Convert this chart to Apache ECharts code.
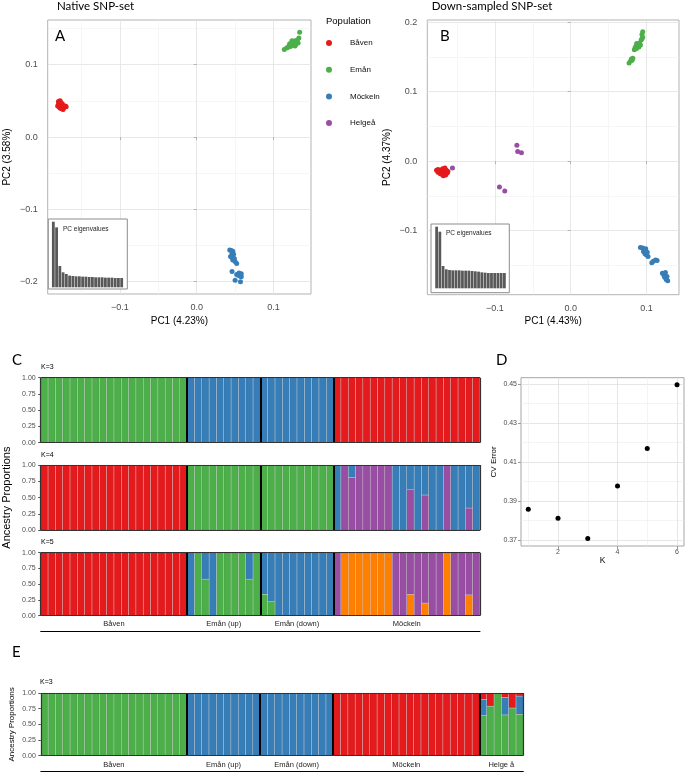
<!DOCTYPE html>
<html><head><meta charset="utf-8">
<script src="https://cdn.jsdelivr.net/npm/echarts@6/dist/echarts.min.js"></script>
<style>html,body{margin:0;padding:0;background:#fff}#c{width:685px;height:773px}</style>
</head><body><div id="c"></div>
<script>
// ================= DATA =================
const popColors = {'Båven':'#E41A1C','Emån':'#4DAF4A','Möckeln':'#377EB8','Helgeå':'#984EA3'};
const popA = ['Båven','Emån','Möckeln'];
const popB = ['Båven','Emån','Möckeln','Helgeå'];

// Panel A (native SNP set): [PC1, PC2]
const pcaA_Baven = [[-0.180,0.049],[-0.178,0.050],[-0.179,0.047],[-0.177,0.046],[-0.180,0.045],[-0.178,0.044],[-0.176,0.044],[-0.179,0.042],[-0.177,0.041],[-0.175,0.042],[-0.178,0.040],[-0.176,0.039],[-0.174,0.040],[-0.173,0.041],[-0.170,0.042],[-0.171,0.043],[-0.181,0.043],[-0.175,0.046],[-0.177,0.048],[-0.174,0.038]];
const pcaA_Eman = [[0.114,0.121],[0.117,0.123],[0.119,0.124],[0.120,0.126],[0.122,0.125],[0.123,0.128],[0.124,0.130],[0.125,0.127],[0.126,0.131],[0.127,0.129],[0.128,0.133],[0.129,0.128],[0.130,0.131],[0.131,0.134],[0.132,0.130],[0.128,0.126],[0.124,0.133],[0.133,0.137],[0.134,0.145],[0.121,0.129]];
const pcaA_Mockeln = [[0.043,-0.156],[0.045,-0.157],[0.047,-0.158],[0.046,-0.161],[0.048,-0.162],[0.044,-0.165],[0.046,-0.167],[0.049,-0.168],[0.047,-0.170],[0.050,-0.172],[0.052,-0.175],[0.046,-0.186],[0.052,-0.190],[0.054,-0.191],[0.056,-0.192],[0.058,-0.189],[0.058,-0.193],[0.050,-0.198],[0.057,-0.200],[0.055,-0.188]];

// Panel B (down-sampled SNP set)
const pcaB_Baven = [[-0.177,-0.013],[-0.175,-0.012],[-0.174,-0.014],[-0.173,-0.016],[-0.172,-0.013],[-0.171,-0.015],[-0.170,-0.017],[-0.169,-0.011],[-0.168,-0.014],[-0.167,-0.018],[-0.166,-0.016],[-0.165,-0.020],[-0.164,-0.013],[-0.163,-0.017],[-0.166,-0.010],[-0.170,-0.019],[-0.168,-0.021],[-0.162,-0.015],[-0.172,-0.018],[-0.175,-0.016]];
const pcaB_Eman = [[0.077,0.141],[0.079,0.144],[0.080,0.147],[0.082,0.148],[0.081,0.145],[0.084,0.160],[0.085,0.163],[0.086,0.165],[0.087,0.162],[0.088,0.166],[0.089,0.168],[0.090,0.164],[0.087,0.169],[0.091,0.170],[0.092,0.167],[0.093,0.174],[0.094,0.176],[0.095,0.178],[0.094,0.182],[0.095,0.186]];
const pcaB_Mockeln = [[0.092,-0.124],[0.095,-0.125],[0.097,-0.127],[0.099,-0.126],[0.096,-0.130],[0.098,-0.133],[0.100,-0.135],[0.102,-0.137],[0.101,-0.131],[0.107,-0.146],[0.109,-0.144],[0.112,-0.142],[0.114,-0.143],[0.121,-0.161],[0.123,-0.164],[0.125,-0.160],[0.124,-0.167],[0.126,-0.170],[0.128,-0.172],[0.127,-0.166]];
const pcaB_Helgea = [[-0.156,-0.010],[-0.071,0.023],[-0.070,0.014],[-0.065,0.012],[-0.094,-0.037],[-0.087,-0.043]];

// PC eigenvalue insets (relative heights)
const eigA = [197,180,64,45,40,35,34,33,33,32,32,31,31,30,30,30,29,29,29,28,28,28];
const eigB = [185,170,67,57,55,54,54,54,53,53,53,52,51,50,48,47,46,46,46,46,46,46];

// Axis ticks
const ticksA_x = [-0.1,0,0.1], minorA_x = [-0.15,-0.05,0.05];
const ticksA_y = [-0.2,-0.1,0,0.1], minorA_y = [-0.15,-0.05,0.05,0.15];
const ticksB_x = [-0.1,0,0.1], minorB_x = [-0.15,-0.05,0.05];
const ticksB_y = [-0.1,0,0.1,0.2], minorB_y = [-0.15,-0.05,0.05,0.15];
const ticksD_x = [2,4,6], minorD_x = [1,3,5];
const ticksD_y = [0.37,0.39,0.41,0.43,0.45], minorD_y = [0.38,0.40,0.42,0.44];

// Panel C: ADMIXTURE (60 individuals)
const popC = ['Båven','Emån (up)','Emån (down)','Möckeln'];
const nC = [20,10,10,20];
const k3_green = [1,1,1,1,1,1,1,1,1,1,1,1,1,1,1,1,1,1,1,1, 0,0,0,0,0,0,0,0,0,0, 0,0,0,0,0,0,0,0,0,0, 0,0,0,0,0,0,0,0,0,0,0,0,0,0,0,0,0,0,0,0];
const k3_blue  = [0,0,0,0,0,0,0,0,0,0,0,0,0,0,0,0,0,0,0,0, 1,1,1,1,1,1,1,1,1,1, 1,1,1,1,1,1,1,1,1,1, 0,0,0,0,0,0,0,0,0,0,0,0,0,0,0,0,0,0,0,0];
const k3_red   = [0,0,0,0,0,0,0,0,0,0,0,0,0,0,0,0,0,0,0,0, 0,0,0,0,0,0,0,0,0,0, 0,0,0,0,0,0,0,0,0,0, 1,1,1,1,1,1,1,1,1,1,1,1,1,1,1,1,1,1,1,1];

const k4_red    = [1,1,1,1,1,1,1,1,1,1,1,1,1,1,1,1,1,1,1,1, 0,0,0,0,0,0,0,0,0,0, 0,0,0,0,0,0,0,0,0,0, 0,0,0,0,0,0,0,0,0,0,0,0,0,0,0,0,0,0,0,0];
const k4_green  = [0,0,0,0,0,0,0,0,0,0,0,0,0,0,0,0,0,0,0,0, 1,1,1,1,1,1,1,1,1,1, 1,1,1,1,1,1,1,1,1,1, 0,0,0,0,0,0,0,0,0,0,0,0,0,0,0,0,0,0,0,0];
const k4_purple = [0,0,0,0,0,0,0,0,0,0,0,0,0,0,0,0,0,0,0,0, 0,0,0,0,0,0,0,0,0,0, 0,0,0,0,0,0,0,0,0,0, 0,1,0.81,1,1,1,1,1,0,0,0.62,0,0.54,0,0,1,0,0,0.34,0];
const k4_blue   = [0,0,0,0,0,0,0,0,0,0,0,0,0,0,0,0,0,0,0,0, 0,0,0,0,0,0,0,0,0,0, 0,0,0,0,0,0,0,0,0,0, 1,0,0.19,0,0,0,0,0,1,1,0.38,1,0.46,1,1,0,1,1,0.66,1];

const k5_red    = [1,1,1,1,1,1,1,1,1,1,1,1,1,1,1,1,1,1,1,1, 0,0,0,0,0,0,0,0,0,0, 0,0,0,0,0,0,0,0,0,0, 0,0,0,0,0,0,0,0,0,0,0,0,0,0,0,0,0,0,0,0];
const k5_green  = [0,0,0,0,0,0,0,0,0,0,0,0,0,0,0,0,0,0,0,0, 0,1,0.58,0,1,1,1,1,0.58,1, 0.34,0.23,0,0,0,0,0,0,0,0, 0,0,0,0,0,0,0,0,0,0,0,0,0,0,0,0,0,0,0,0];
const k5_blue   = [0,0,0,0,0,0,0,0,0,0,0,0,0,0,0,0,0,0,0,0, 1,0,0.42,1,0,0,0,0,0.42,0, 0.66,0.77,1,1,1,1,1,1,1,1, 0,0,0,0,0,0,0,0,0,0,0,0,0,0,0,0,0,0,0,0];
const k5_orange = [0,0,0,0,0,0,0,0,0,0,0,0,0,0,0,0,0,0,0,0, 0,0,0,0,0,0,0,0,0,0, 0,0,0,0,0,0,0,0,0,0, 0,1,1,1,1,1,1,1,0,0,0.34,0,0.20,0,0,1,0,0,0.33,0];
const k5_purple = [0,0,0,0,0,0,0,0,0,0,0,0,0,0,0,0,0,0,0,0, 0,0,0,0,0,0,0,0,0,0, 0,0,0,0,0,0,0,0,0,0, 1,0,0,0,0,0,0,0,1,1,0.66,1,0.80,1,1,0,1,1,0.67,1];

// Panel D: CV error
const cvK = [1,2,3,4,5,6];
const cvErr = [0.3857,0.3811,0.3707,0.3976,0.4169,0.4495];

// Panel E: K=3 with Helge å (66 individuals)
const popE = ['Båven','Emån (up)','Emån (down)','Möckeln','Helge å'];
const nE = [20,10,10,20,6];
const e_green = [1,1,1,1,1,1,1,1,1,1,1,1,1,1,1,1,1,1,1,1, 0,0,0,0,0,0,0,0,0,0, 0,0,0,0,0,0,0,0,0,0, 0,0,0,0,0,0,0,0,0,0,0,0,0,0,0,0,0,0,0,0, 0.64,0.79,1,0.65,0.76,0.66];
const e_blue  = [0,0,0,0,0,0,0,0,0,0,0,0,0,0,0,0,0,0,0,0, 1,1,1,1,1,1,1,1,1,1, 1,1,1,1,1,1,1,1,1,1, 0,0,0,0,0,0,0,0,0,0,0,0,0,0,0,0,0,0,0,0, 0.26,0,0,0.28,0,0.29];
const e_red   = [0,0,0,0,0,0,0,0,0,0,0,0,0,0,0,0,0,0,0,0, 0,0,0,0,0,0,0,0,0,0, 0,0,0,0,0,0,0,0,0,0, 1,1,1,1,1,1,1,1,1,1,1,1,1,1,1,1,1,1,1,1, 0.10,0.21,0,0.07,0.24,0.05];

const C_RED='#E41A1C', C_BLUE='#377EB8', C_GREEN='#4DAF4A', C_PURPLE='#984EA3', C_ORANGE='#FF7F00';

// ================= BUILD =================
const FONT = 'Liberation Sans';
const TFONT = 'Lato';
const grids=[], xAxes=[], yAxes=[], series=[], titles=[];
const addGrid=g=>{grids.push(Object.assign({outerBoundsMode:'none', containLabel:false}, g));return grids.length-1;};
const addX=a=>{xAxes.push(Object.assign({nameMoveOverlap:false}, a));return xAxes.length-1;};
const addY=a=>{yAxes.push(Object.assign({nameMoveOverlap:false}, a));return yAxes.length-1;};
const inList=(list,v)=>list.some(t=>Math.abs(t-v)<1e-9);
const fmt=(list,dec)=>v=>{ if(!inList(list,v)) return ''; const s=Math.abs(v).toFixed(dec); return (v< -1e-12?'\u2212':'')+s; };

function title(text, left, top, size, opts){
  titles.push(Object.assign({text, left, top, padding:0, z:10,
    textStyle:{fontFamily:FONT, fontSize:size, fontWeight:'normal', color:'#000'}}, opts||{}));
}

function mainAxis(dim, gi, min, max, ticks, dec, name, nameGap, labelMargin, labelSize, nameSize, tickColor, gridColor){
  return {type:'value', gridIndex:gi, min, max, position: dim==='x'?'bottom':'left',
    axisLine:{show:false},
    axisTick:{show:true, length:3, lineStyle:{color:tickColor||'#b3b3b3'}, customValues:ticks},
    axisLabel:{customValues:ticks, formatter:fmt(ticks,dec), fontFamily:FONT, fontSize:labelSize, color:'#4d4d4d', margin:labelMargin},
    splitLine:{show:true, lineStyle:{color:gridColor||'#e2e2e2', width:0.8}},
    name, nameLocation:'middle', nameGap, nameRotate: dim==='y'?90:0,
    nameTextStyle:{fontFamily:FONT, fontSize:nameSize, color:'#000'}};
}
function minorAxis(dim, gi, min, max, ticks, gridColor){
  return {type:'value', gridIndex:gi, min, max, position: dim==='x'?'bottom':'left',
    axisLine:{show:false}, axisTick:{show:false, customValues:ticks},
    axisLabel:{show:false, customValues:ticks},
    splitLine:{show:true, lineStyle:{color:gridColor||'#f0f0f0', width:0.6}}};
}

// ---------- PCA panels ----------
function pcaPanel(box, xr, yr, tx, mx, ty, my, xname, yname, pops, dataSets, inset, eig){
  const gi = addGrid({left:box[0], top:box[1], width:box[2], height:box[3], show:true, borderColor:'#b3b3b3', borderWidth:1, backgroundColor:'transparent'});
  addX(minorAxis('x',gi,xr[0],xr[1],mx));
  addY(minorAxis('y',gi,yr[0],yr[1],my));
  const xi = addX(mainAxis('x',gi,xr[0],xr[1],tx,1,xname,22,9,9,10));
  const yi = addY(mainAxis('y',gi,yr[0],yr[1],ty,1,yname,35,10,9,10));
  pops.forEach((p,i)=>series.push({type:'scatter', name:p, xAxisIndex:xi, yAxisIndex:yi, data:dataSets[i], symbolSize:5, itemStyle:{color:popColors[p], opacity:1}}));
  // inset frame
  const bg = addGrid({left:inset[0], top:inset[1], width:inset[2], height:inset[3], show:true, backgroundColor:'#fff', borderColor:'#8c8c8c', borderWidth:1, z:1});
  addX({type:'value', gridIndex:bg, show:false});
  addY({type:'value', gridIndex:bg, show:false});
  const bi = addGrid({left:inset[4], top:inset[5], width:inset[6], height:inset[7], z:1});
  const bx = addX({type:'category', gridIndex:bi, data:eig.map((v,i)=>'PC'+(i+1)), show:false});
  const by = addY({type:'value', gridIndex:bi, min:0, max:eig[0], show:false});
  series.push({type:'bar', xAxisIndex:bx, yAxisIndex:by, data:eig, barCategoryGap:'14%', itemStyle:{color:'#595959'}, z:3, silent:true});
}

pcaPanel([47.7,20,263.3,274], [-0.194,0.1488], [-0.217,0.1618], ticksA_x, minorA_x, ticksA_y, minorA_y,
  'PC1 (4.23%)','PC2 (3.58%)', popA, [pcaA_Baven,pcaA_Eman,pcaA_Mockeln],
  [48.3,219,79,70, 51.7,221.7,71.6,65.6], eigA);
pcaPanel([427.3,20,251.7,274.7], [-0.1892,0.1429], [-0.192,0.2029], ticksB_x, minorB_x, ticksB_y, minorB_y,
  'PC1 (4.43%)','PC2 (4.37%)', popB, [pcaB_Baven,pcaB_Eman,pcaB_Mockeln,pcaB_Helgea],
  [431,224,78.3,68.7, 435,226.7,71,61.6], eigB);

title('Native SNP-set', 57, 0, 11, {textStyle:{fontFamily:TFONT, fontSize:11.5, color:'#000', fontWeight:'normal'}});
title('Down-sampled SNP-set', 431.7, 0, 11, {textStyle:{fontFamily:TFONT, fontSize:11.5, color:'#000', fontWeight:'normal'}});
title('A', 55, 29, 15, {textStyle:{fontFamily:TFONT, fontSize:15, color:'#000', fontWeight:'normal'}});
title('B', 440, 29, 15, {textStyle:{fontFamily:TFONT, fontSize:15, color:'#000', fontWeight:'normal'}});
title('PC eigenvalues', 63, 225.5, 6.5, {textStyle:{fontFamily:FONT, fontSize:6.5, color:'#222', fontWeight:'normal'}});
title('PC eigenvalues', 446, 229.5, 6.5, {textStyle:{fontFamily:FONT, fontSize:6.5, color:'#222', fontWeight:'normal'}});
title('Population', 326, 16, 9.5);

// ---------- Structure panels ----------
function structPanel(box, pops, ns, comps, showGroupLabels, yName, yNameGap, yNameSize, labelMargin){
  const N = ns.reduce((a,b)=>a+b,0);
  const cats = pops.flatMap((p,i)=>Array.from({length:ns[i]},(_,j)=>p+' '+(j+1)));
  const cum=[0]; ns.forEach(n=>cum.push(cum[cum.length-1]+n));
  const centers = pops.map((p,i)=>cum[i]+ns[i]/2);
  const seps = cum.slice(1,-1);
  const gi = addGrid({left:box[0], top:box[1], width:box[2], height:box[3]});
  const cx = addX({type:'category', gridIndex:gi, data:cats, show:false});
  const y = addY({type:'value', gridIndex:gi, min:0, max:1, interval:0.25, position:'left',
    axisLine:{show:false}, axisTick:{show:true, length:2.5, lineStyle:{color:'#555'}},
    axisLabel:{fontFamily:FONT, fontSize:7, color:'#4d4d4d', margin:5, formatter:v=>v.toFixed(2)},
    splitLine:{show:false},
    name:yName||'', nameLocation:'middle', nameGap:yNameGap||20, nameRotate:90,
    nameTextStyle:{fontFamily:FONT, fontSize:yNameSize||11, color:'#000'}});
  const ov = addX({type:'value', gridIndex:gi, min:0, max:N, interval: centers.every(c=>c%5===0)?5:1, position:'bottom',
    axisLine:{show:false}, axisTick:{show:false}, splitLine:{show:false},
    axisLabel:{show:showGroupLabels, margin:labelMargin||4, fontFamily:FONT, fontSize:7.5, color:'#222',
      formatter:v=>{const i=centers.findIndex(c=>Math.abs(c-v)<1e-6); return i>=0?pops[i]:'';}}});
  if(showGroupLabels){
    addX({type:'value', gridIndex:gi, min:0, max:N, position:'bottom', offset:16,
      axisLine:{show:true, lineStyle:{color:'#000', width:1}}, axisTick:{show:false}, axisLabel:{show:false}, splitLine:{show:false}});
  }
  comps.forEach(c=>series.push({type:'bar', stack:'s'+gi, xAxisIndex:cx, yAxisIndex:y,
    data:c.data.map(v=>v===0?'-':v), barWidth:'100%', barGap:'0%', silent:true,
    itemStyle:{color:c.color, borderColor:'rgba(0,0,0,0.16)', borderWidth:0.5}}));
  const frame = {color:'#333', width:1.2, type:'solid'};
  series.push({type:'scatter', xAxisIndex:ov, yAxisIndex:y, data:[[0,0]], symbolSize:0, silent:true, z:5,
    markLine:{silent:true, symbol:['none','none'], label:{show:false}, animation:false,
      data:[...seps.map(s=>({xAxis:s, lineStyle:{color:'#000', width:2, type:'solid'}})),
            {xAxis:0, lineStyle:frame},{xAxis:N, lineStyle:frame},{yAxis:0, lineStyle:frame},{yAxis:1, lineStyle:frame}]}});
}

structPanel([40.7,377.7,439.3,65], popC, nC, [{data:k3_green,color:C_GREEN},{data:k3_blue,color:C_BLUE},{data:k3_red,color:C_RED}], false);
structPanel([40.7,465,439.3,65.3], popC, nC, [{data:k4_purple,color:C_PURPLE},{data:k4_blue,color:C_BLUE},{data:k4_green,color:C_GREEN},{data:k4_red,color:C_RED}], false, 'Ancestry Proportions', 28, 11);
structPanel([40.7,552.7,439.3,63], popC, nC, [{data:k5_orange,color:C_ORANGE},{data:k5_green,color:C_GREEN},{data:k5_purple,color:C_PURPLE},{data:k5_blue,color:C_BLUE},{data:k5_red,color:C_RED}], true, null, null, null, 4);
structPanel([40.8,693,482.5,62.7], popE, nE, [{data:e_green,color:C_GREEN},{data:e_blue,color:C_BLUE},{data:e_red,color:C_RED}], true, 'Ancestry Proportions', 25, 8, 5);

title('C', 12, 352.5, 15, {textStyle:{fontFamily:TFONT, fontSize:15, color:'#000', fontWeight:'normal'}});
title('K=3', 41, 364, 7);
title('K=4', 41, 452, 7);
title('K=5', 41, 539, 7);
title('E', 12, 645, 15, {textStyle:{fontFamily:TFONT, fontSize:15, color:'#000', fontWeight:'normal'}});
title('K=3', 40, 679, 7);

// ---------- Panel D ----------
(function(){
  const gi = addGrid({left:521, top:377.7, width:163, height:168.3, show:true, borderColor:'#a6a6a6', borderWidth:1, backgroundColor:'transparent'});
  const xr=[0.756,6.235], yr=[0.3669,0.4531];
  addX(minorAxis('x',gi,xr[0],xr[1],minorD_x,'#ececec'));
  addY(minorAxis('y',gi,yr[0],yr[1],minorD_y,'#ececec'));
  const xi = addX(mainAxis('x',gi,xr[0],xr[1],ticksD_x,0,'K',10,3,7,8.5,'#999','#e0e0e0'));
  const yi = addY(mainAxis('y',gi,yr[0],yr[1],ticksD_y,2,'CV Error',23,4,7,8,'#999','#e0e0e0'));
  series.push({type:'scatter', xAxisIndex:xi, yAxisIndex:yi, data:cvK.map((k,i)=>[k,cvErr[i]]), symbolSize:5, itemStyle:{color:'#000', opacity:1}});
})();
title('D', 496, 352.5, 15, {textStyle:{fontFamily:TFONT, fontSize:15, color:'#000', fontWeight:'normal'}});

const chart = echarts.init(document.getElementById('c'), null, {renderer:'canvas'});
chart.setOption({
  animation:false,
  backgroundColor:'#fff',
  title: titles,
  legend:{data:popB, orient:'vertical', left:326, top:38, padding:0, itemWidth:6, itemHeight:6, itemGap:16.7,
    icon:'circle', selectedMode:false,
    textStyle:{fontFamily:FONT, fontSize:8, color:'#111', lineHeight:10, padding:[0,0,0,13]}},
  grid: grids, xAxis: xAxes, yAxis: yAxes, series
});
</script></body></html>
